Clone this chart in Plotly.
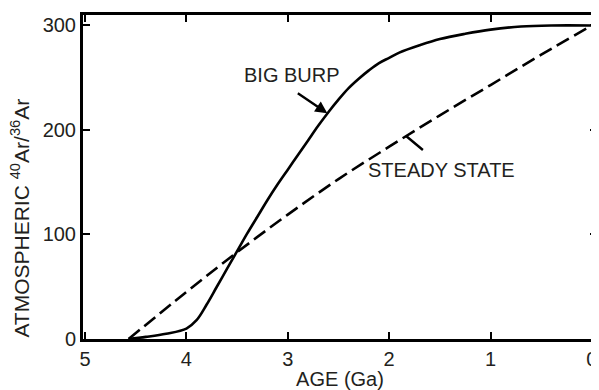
import plotly.graph_objects as go

# ages (Ga) and atmospheric 40Ar/36Ar
burp_age = [4.57, 4.4, 4.2, 4.0, 3.9, 3.8, 3.7, 3.6, 3.5, 3.4, 3.3, 3.2, 3.1, 3.0, 2.9, 2.8, 2.7, 2.6, 2.5, 2.4, 2.3, 2.2, 2.1, 2.0, 1.9, 1.7, 1.5, 1.25, 1.0, 0.7, 0.4, 0.0]
burp_ratio = [0, 2, 5, 10, 18, 33, 50, 67, 84, 101, 117, 133, 148, 162, 176, 190, 204, 217, 229, 240, 249, 257, 264, 269, 274, 281, 287, 292, 296, 299, 300, 300]

steady_age = [4.57, 4.0, 3.5, 3.0, 2.5, 2.0, 1.5, 1.0, 0.5, 0.0]
steady_ratio = [0, 45, 83, 119, 153, 184, 214, 243, 272, 300]

x_ticks = [5, 4, 3, 2, 1, 0]
y_ticks = [0, 100, 200, 300]

ink = "#231f20"
font = "Liberation Sans, Arial, sans-serif"

fig = go.Figure()

fig.add_trace(go.Scatter(x=burp_age, y=burp_ratio, mode="lines", line=dict(color="black", width=2.6, shape="spline", smoothing=1), showlegend=False))
fig.add_trace(go.Scatter(x=steady_age, y=steady_ratio, mode="lines", line=dict(color="black", width=2.6, shape="spline", smoothing=1, dash="14px,6px"), showlegend=False))

# labels with little arrows pointing at the curves
fig.add_annotation(x=2.96, y=253, text="BIG BURP", showarrow=False, font=dict(size=20, color=ink, family=font))
fig.add_annotation(x=2.61, y=216, ax=-31, ay=-21, text="", showarrow=True, arrowhead=2, arrowsize=1, arrowwidth=2.4, arrowcolor="black")
fig.add_annotation(x=2.23, y=162, text="STEADY STATE", xanchor="left", showarrow=False, font=dict(size=20, color=ink, family=font))
fig.add_annotation(x=1.83, y=194, ax=18, ay=15, text="", showarrow=True, arrowhead=0, arrowwidth=2.4, arrowcolor="black")

# y title sits a bit below the middle of the axis in the original
fig.add_annotation(xref="paper", yref="paper", x=-0.123, y=0.374, xanchor="center", yanchor="middle",
                   textangle=-90, showarrow=False,
                   text="ATMOSPHERIC <sup>40</sup>Ar/<sup>36</sup>Ar", font=dict(size=21, color=ink, family=font))

fig.update_xaxes(range=[5.02, -0.05], tickvals=x_ticks, ticks="inside", ticklen=7, tickwidth=1.5, tickcolor="black",
                 showline=True, linecolor="black", linewidth=3, mirror="ticks", showgrid=False, zeroline=False,
                 automargin=False,
                 title=dict(text="AGE (Ga)", standoff=6, font=dict(size=20, color=ink, family=font)),
                 tickfont=dict(size=20, color=ink, family=font))
fig.update_yaxes(range=[0, 310], tickvals=y_ticks, ticks="inside", ticklen=7, tickwidth=1.5, tickcolor="black",
                 showline=True, linecolor="black", linewidth=3, mirror="ticks", showgrid=False, zeroline=False,
                 automargin=False, tickfont=dict(size=20, color=ink, family=font))

# the page adds an 8px body margin, so the figure is 8px smaller to fit the window
fig.update_layout(width=591, height=382, margin=dict(l=75, r=2, t=7, b=51),
                  plot_bgcolor="white", paper_bgcolor="white")

fig.write_html("out.html")
